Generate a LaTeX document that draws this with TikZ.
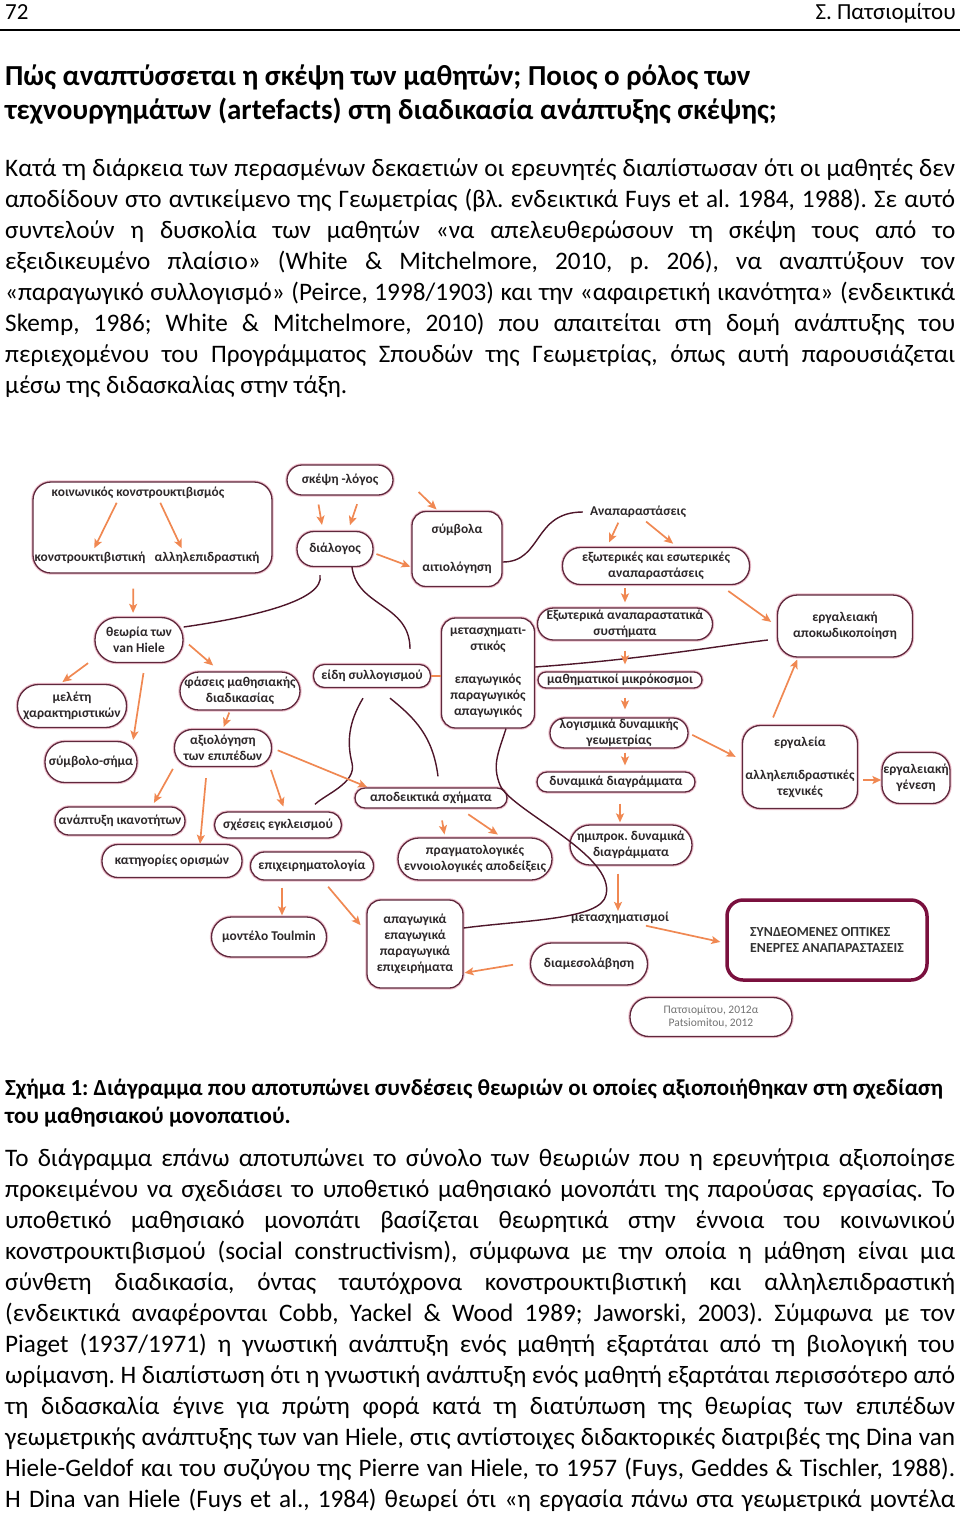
\documentclass[tikz,border=0pt]{standalone}
\usepackage{fontspec}
\setmainfont{Carlito}
\usepackage{tikz}
\usetikzlibrary{arrows.meta}

\definecolor{boxc}{RGB}{95,40,60}
\definecolor{haloc}{RGB}{238,192,205}
\definecolor{linkc}{RGB}{78,22,42}
\definecolor{arrc}{RGB}{240,136,82}
\definecolor{bigc}{RGB}{122,16,62}
\definecolor{lblc}{RGB}{45,40,42}

\newcommand{\jline}[1]{\makebox[950pt][s]{#1}}
\frenchspacing

\begin{document}
\begin{tikzpicture}[x=1pt, y=-1pt, >={Stealth[length=9pt,width=8pt,inset=2pt]},
  hdr/.style={anchor=base west, inner sep=0pt, font=\fontsize{23}{26}\selectfont},
  body/.style={anchor=base west, inner sep=0pt, font=\fontsize{25.2}{30}\selectfont},
  ttl/.style={anchor=base west, inner sep=0pt, font=\fontsize{29}{33}\selectfont\bfseries},
  captxt/.style={anchor=base west, inner sep=0pt, font=\fontsize{23}{27}\selectfont\bfseries},
  lbl/.style={text=lblc, font=\fontsize{13.4}{16}\selectfont\bfseries, align=center, inner sep=1pt},
  pill/.style={lbl, draw=boxc, line width=1.3pt, fill=white, rounded corners=#1, preaction={draw=haloc, line width=3.4pt}},
  rbox/.style={pill=14pt},
  bigbox/.style={draw=bigc, line width=3.5pt, fill=white, rounded corners=16pt, text=black!80, font=\fontsize{13.8}{16}\selectfont\bfseries, align=left},
  arr/.style={->, draw=arrc, line width=1.7pt, shorten <=3pt, shorten >=3pt},
  link/.style={draw=linkc, line width=1.4pt}]

\fill[white] (0,0) rectangle (960,1513);
\useasboundingbox (0,0) rectangle (960,1513);

% page head
\node[hdr] (hdrL) at (5,19) {72};
\node[hdr, anchor=base east] (hdrR) at (956,19) {Σ. Πατσιομίτου};
\draw[line width=1.2pt] (0,30) -- (960,30);

\node[ttl] (ttl1) at (5,85) {Πώς αναπτύσσεται η σκέψη των μαθητών; Ποιος ο ρόλος των};
\node[ttl] (ttl2) at (5,119) {τεχνουργημάτων (artefacts) στη διαδικασία ανάπτυξης σκέψης;};

\node[body] (pa1) at (5,176) {\jline{Κατά τη διάρκεια των περασμένων δεκαετιών οι ερευνητές διαπίστωσαν ότι οι μαθητές δεν}};
\node[body] (pa2) at (5,207) {\jline{αποδίδουν στο αντικείμενο της Γεωμετρίας (βλ. ενδεικτικά Fuys et al. 1984, 1988). Σε αυτό}};
\node[body] (pa3) at (5,238) {\jline{συντελούν η δυσκολία των μαθητών «να απελευθερώσουν τη σκέψη τους από το}};
\node[body] (pa4) at (5,269) {\jline{εξειδικευμένο πλαίσιο» (White \& Mitchelmore, 2010, p. 206), να αναπτύξουν τον}};
\node[body] (pa5) at (5,300) {\jline{«παραγωγικό συλλογισμό» (Peirce, 1998/1903) και την «αφαιρετική ικανότητα» (ενδεικτικά}};
\node[body] (pa6) at (5,331) {\jline{Skemp, 1986; White \& Mitchelmore, 2010) που απαιτείται στη δομή ανάπτυξης του}};
\node[body] (pa7) at (5,362) {\jline{περιεχομένου του Προγράμματος Σπουδών της Γεωμετρίας, όπως αυτή παρουσιάζεται}};
\node[body] (pa8) at (5,393) {μέσω της διδασκαλίας στην τάξη.};

% diagram
\node[rbox, rounded corners=18pt, minimum width=239pt, minimum height=91pt] (socbox) at (152.5,527.5) {};
\node[lbl] (socK) at (138,493) {κοινωνικός κονστρουκτιβισμός};
\node[lbl] (socC) at (90,558) {κονστρουκτιβιστική};
\node[lbl] (socA) at (207,558) {αλληλεπιδραστική};

\node[pill=15pt, minimum width=106pt, minimum height=30pt] (skepsi) at (340,480) {σκέψη -λόγος};
\node[pill=17pt, minimum width=76pt, minimum height=35pt] (dialogos) at (335,549) {διάλογος};
\node[rbox, minimum width=90pt, minimum height=75pt] (symbola) at (457,549) {σύμβολα\\[22pt]αιτιολόγηση};
\node[lbl] (anapar) at (638,512) {Αναπαραστάσεις};
\node[pill=18pt, minimum width=187pt, minimum height=37pt] (exeso) at (656,566) {εξωτερικές και εσωτερικές\\αναπαραστάσεις};
\node[pill=16pt, minimum width=175pt, minimum height=32pt] (exoter) at (625,624) {Εξωτερικά αναπαραστατικά\\συστήματα};
\node[pill=8pt, minimum width=164pt, minimum height=16pt] (mathimat) at (620,680) {μαθηματικοί μικρόκοσμοι};
\node[pill=15pt, minimum width=138pt, minimum height=30pt] (logism) at (619,733) {λογισμικά δυναμικής\\γεωμετρίας};
\node[pill=10pt, minimum width=158pt, minimum height=20pt] (dynamika) at (616,782) {δυναμικά διαγράμματα};
\node[pill=20pt, minimum width=122pt, minimum height=40pt] (imiprok) at (631,845) {ημιπροκ. δυναμικά\\διαγράμματα};
\node[lbl] (metasx) at (620,918) {μετασχηματισμοί};
\node[pill=21pt, minimum width=117pt, minimum height=42pt] (diamesol) at (589,964) {διαμεσολάβηση};
\node[rbox, minimum width=96pt, minimum height=88pt] (apagogika) at (415,944) {απαγωγικά\\επαγωγικά\\παραγωγικά\\επιχειρήματα};
\node[rbox, minimum width=93pt, minimum height=110pt] (metask) at (488,673) {μετασχηματι-\\στικός\\[17pt]επαγωγικός\\παραγωγικός\\απαγωγικός};
\node[pill=11pt, minimum width=117pt, minimum height=23pt] (eidi) at (372,676) {είδη συλλογισμού};
\node[pill=10pt, minimum width=152pt, minimum height=20pt] (apodeik) at (431,798) {αποδεικτικά σχήματα};
\node[pill=21pt, minimum width=154pt, minimum height=42pt] (pragm) at (475,859) {πραγματολογικές\\εννοιολογικές αποδείξεις};

\node[pill=22pt, minimum width=88pt, minimum height=45pt] (vanhiele) at (139,640) {θεωρία των\\van Hiele};
\node[pill=19pt, minimum width=120pt, minimum height=38pt] (fasis) at (240,691) {φάσεις μαθησιακής\\διαδικασίας};
\node[pill=21pt, minimum width=109pt, minimum height=43pt] (meleti) at (72,706) {μελέτη\\χαρακτηριστικών};
\node[pill=20pt, minimum width=92pt, minimum height=41pt] (symvolo) at (91,762) {σύμβολο-σήμα};
\node[pill=18pt, minimum width=97pt, minimum height=37pt] (axiol) at (223,748) {αξιολόγηση\\των επιπέδων};
\node[pill=14pt, minimum width=130pt, minimum height=28pt] (anaptyxi) at (120,821) {ανάπτυξη ικανοτήτων};
\node[pill=13pt, minimum width=127pt, minimum height=26pt] (sxeseis) at (278,825) {σχέσεις εγκλεισμού};
\node[pill=16pt, minimum width=140pt, minimum height=33pt] (katigories) at (172,861) {κατηγορίες ορισμών};
\node[pill=14pt, minimum width=123pt, minimum height=28pt] (epixeir) at (312,866) {επιχειρηματολογία};
\node[pill=20pt, minimum width=115pt, minimum height=40pt] (toulmin) at (269,937) {μοντέλο Toulmin};

\node[rbox, rounded corners=20pt, minimum width=135pt, minimum height=62pt] (apokod) at (845,626) {εργαλειακή\\αποκωδικοποίηση};
\node[rbox, rounded corners=18pt, minimum width=115pt, minimum height=83pt] (ergaleia) at (800,767) {εργαλεία\\[17pt]αλληλεπιδραστικές\\τεχνικές};
\node[rbox, rounded corners=18pt, minimum width=68pt, minimum height=51pt] (genesi) at (916,778) {εργαλειακή\\γένεση};
\node[bigbox, minimum width=200pt, minimum height=80pt] (bigbox) at (827,940) {ΣΥΝΔΕΟΜΕΝΕΣ ΟΠΤΙΚΕΣ\\ΕΝΕΡΓΕΣ ΑΝΑΠΑΡΑΣΤΑΣΕΙΣ};
\node[pill=19pt, minimum width=162pt, minimum height=39pt, text=black!55, font=\fontsize{11.5}{13}\selectfont] (credit) at (711,1017) {Πατσιομίτου, 2012α\\Patsiomitou, 2012};

% curved links
\draw[link] ([yshift=13pt]vanhiele.east) .. controls +(70,-10) and +(5,25) .. ([xshift=-15pt,yshift=-8pt]dialogos.south);
\draw[link] ([xshift=17pt]dialogos.south) .. controls +(5,40) and +(0,-45) .. ([xshift=38pt,yshift=15pt]eidi.north);
\draw[link] ([xshift=-9pt,yshift=-10pt]eidi.south) .. controls +(-15,25) and +(-5,-20) .. (352,763) .. controls +(5,20) and +(10,-10) .. ([xshift=37pt,yshift=7pt]sxeseis.north);
\draw[link] ([xshift=18pt,yshift=-10pt]eidi.south) .. controls +(25,20) and +(-5,-40) .. ([xshift=7pt,yshift=11pt]apodeik.north);
\draw[link] ([yshift=-13pt]symbola.east) .. controls +(40,0) and +(-50,0) .. ([xshift=-6pt]anapar.west);
\draw[link] ([yshift=6pt]metask.east) .. controls +(110,-8) and +(-50,6) .. ([xshift=-9pt,yshift=-14pt]apokod.west);
\draw[link] ([xshift=18pt]metask.south) .. controls +(-8,25) and +(-8,-20) .. (500,785) .. controls +(10,25) and +(10,-40) .. (606,895) .. controls +(-5,25) and +(60,-8) .. ([yshift=16pt]apagogika.east);
\draw[draw=arrc, line width=1.7pt] (eidi.east) -- ([yshift=-3pt]metask.west);

% arrows
\draw[arr, shorten <=15pt, shorten >=4pt] ([xshift=-19pt]socbox.south) -- ([xshift=-6pt]vanhiele.north);
\draw[arr] ([xshift=-20pt]socK.south) -- ([xshift=3pt]socC.north);
\draw[arr] ([xshift=21pt]socK.south) -- ([xshift=-24pt]socA.north);
\draw[arr, shorten <=9pt, shorten >=6pt] ([xshift=-23pt]skepsi.south) -- ([xshift=-12pt]dialogos.north);
\draw[arr, shorten <=9pt, shorten >=6pt] ([xshift=20pt]skepsi.south) -- ([xshift=13pt]dialogos.north);
\draw[arr, shorten <=0pt, shorten >=2pt] ([xshift=25pt,yshift=-12pt]skepsi.east) -- ([xshift=-19pt]symbola.north);
\draw[arr, shorten >=1pt] ([yshift=-4pt]dialogos.east) -- ([yshift=-18pt]symbola.west);
\draw[arr, shorten <=4pt, shorten >=5pt] ([xshift=-18pt]anapar.south) -- ([xshift=-49pt]exeso.north);
\draw[arr, shorten <=4pt, shorten >=5pt] ([xshift=5pt]anapar.south) -- ([xshift=21pt]exeso.north);
\draw[arr, shorten >=5pt] ([xshift=-31pt]exeso.south) -- (exoter.north);
\draw[arr, shorten <=10pt, shorten >=7pt] ([xshift=-30pt]exeso.south east) -- (apokod.west);
\draw[arr, shorten <=10pt, shorten >=7pt] (exoter.south) -- ([xshift=5pt]mathimat.north);
\draw[arr, shorten <=9pt, shorten >=8pt] ([xshift=5pt]mathimat.south) -- ([xshift=6pt]logism.north);
\draw[arr, shorten <=4pt, shorten >=6pt] ([xshift=6pt]logism.south) -- ([xshift=9pt]dynamika.north);
\draw[arr, shorten <=4pt, shorten >=7pt] (logism.east) -- ([yshift=7pt]ergaleia.west);
\draw[arr, shorten <=11pt, shorten >=2pt] ([xshift=4pt]dynamika.south) -- ([xshift=-11pt]imiprok.north);
\draw[arr, shorten <=8pt, shorten >=0pt] ([xshift=-13pt]imiprok.south) -- ([xshift=-2pt]metasx.north);
\draw[arr, shorten >=5pt] ([xshift=23pt]metasx.south) -- ([yshift=-3pt]bigbox.west);
\draw[arr, shorten <=17pt, shorten >=1pt] ([yshift=2pt]diamesol.west) -- ([yshift=-29pt]apagogika.east);
\draw[arr, shorten <=8pt, shorten >=2pt] ([xshift=-30pt]ergaleia.north) -- ([xshift=-47pt]apokod.south);
\draw[arr, shorten <=5pt, shorten >=0pt] ([yshift=-13pt]ergaleia.east) -- ([yshift=-2pt]genesi.west);
\draw[arr, shorten <=7pt, shorten >=9pt] (vanhiele.east) -- ([xshift=-20pt]fasis.north);
\draw[arr, shorten <=0pt, shorten >=3pt] ([xshift=-51pt]vanhiele.south) -- ([xshift=-12pt]meleti.north);
\draw[arr, shorten <=10pt, shorten >=1pt] ([xshift=6pt]vanhiele.south) -- ([xshift=42pt]symvolo.north);
\draw[arr, shorten <=2pt, shorten >=2pt] ([xshift=-10pt]fasis.south) -- (axiol.north);
\draw[arr, shorten <=2pt, shorten >=4pt] (axiol.south west) -- ([xshift=32pt]anaptyxi.north);
\draw[arr, shorten <=11pt, shorten >=0pt] ([xshift=-16pt]axiol.south) -- ([xshift=28pt]katigories.north);
\draw[arr, shorten <=3pt, shorten >=5pt] ([xshift=47pt]axiol.south) -- ([xshift=7pt]sxeseis.north);
\draw[arr, shorten <=6pt, shorten >=1pt] (axiol.east) -- ([xshift=-63pt]apodeik.north);
\draw[arr, shorten <=12pt, shorten >=3pt] ([xshift=9pt]apodeik.south) -- ([xshift=-30pt]pragm.north);
\draw[arr, shorten <=10pt, shorten >=5pt] ([xshift=29pt]apodeik.south) -- ([xshift=27pt]pragm.north);
\draw[arr, shorten <=7pt, shorten >=1pt] ([xshift=-30pt]epixeir.south) -- ([xshift=13pt]toulmin.north);
\draw[arr, shorten <=8pt, shorten >=9pt] ([xshift=11pt]epixeir.south) -- ([yshift=12pt]apagogika.west);

% caption and text below
\node[captxt] (cap1) at (5,1095) {Σχήμα 1: Διάγραμμα που αποτυπώνει συνδέσεις θεωριών οι οποίες αξιοποιήθηκαν στη σχεδίαση};
\node[captxt] (cap2) at (5,1123) {του μαθησιακού μονοπατιού.};

\node[body] (pb1) at (5,1166) {\jline{Το διάγραμμα επάνω αποτυπώνει το σύνολο των θεωριών που η ερευνήτρια αξιοποίησε}};
\node[body] (pb2) at (5,1197) {\jline{προκειμένου να σχεδιάσει το υποθετικό μαθησιακό μονοπάτι της παρούσας εργασίας. Το}};
\node[body] (pb3) at (5,1228) {\jline{υποθετικό μαθησιακό μονοπάτι βασίζεται θεωρητικά στην έννοια του κοινωνικού}};
\node[body] (pb4) at (5,1259) {\jline{κονστρουκτιβισμού (social constructivism), σύμφωνα με την οποία η μάθηση είναι μια}};
\node[body] (pb5) at (5,1290) {\jline{σύνθετη διαδικασία, όντας ταυτόχρονα κονστρουκτιβιστική και αλληλεπιδραστική}};
\node[body] (pb6) at (5,1321) {\jline{(ενδεικτικά αναφέρονται Cobb, Yackel \& Wood 1989; Jaworski, 2003). Σύμφωνα με τον}};
\node[body] (pb7) at (5,1352) {\jline{Piaget (1937/1971) η γνωστική ανάπτυξη ενός μαθητή εξαρτάται από τη βιολογική του}};
\node[body] (pb8) at (5,1383) {\jline{ωρίμανση. Η διαπίστωση ότι η γνωστική ανάπτυξη ενός μαθητή εξαρτάται περισσότερο από}};
\node[body] (pb9) at (5,1414) {\jline{τη διδασκαλία έγινε για πρώτη φορά κατά τη διατύπωση της θεωρίας των επιπέδων}};
\node[body] (pb10) at (5,1445) {\jline{γεωμετρικής ανάπτυξης των van Hiele, στις αντίστοιχες διδακτορικές διατριβές της Dina van}};
\node[body] (pb11) at (5,1476) {\jline{Hiele-Geldof και του συζύγου της Pierre van Hiele, το 1957 (Fuys, Geddes \& Tischler, 1988).}};
\node[body] (pb12) at (5,1507) {\jline{Η Dina van Hiele (Fuys et al., 1984) θεωρεί ότι «η εργασία πάνω στα γεωμετρικά μοντέλα}};
\end{tikzpicture}
\end{document}
